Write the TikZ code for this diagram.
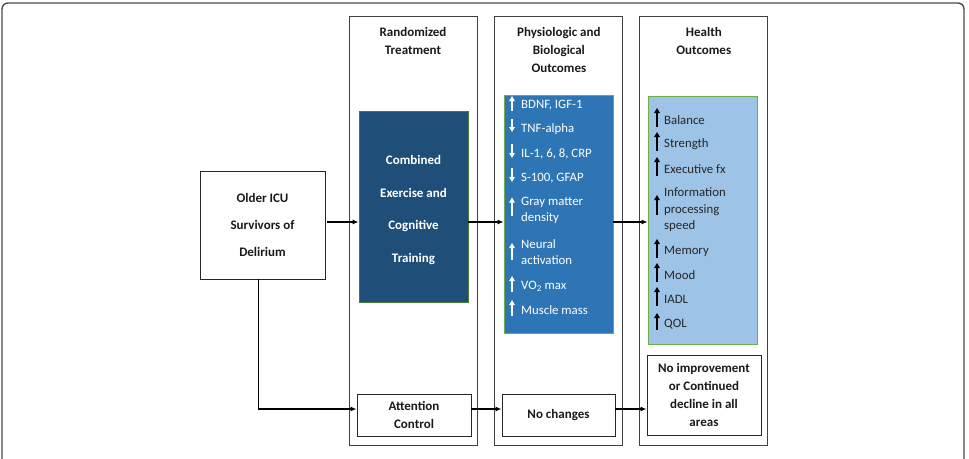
\documentclass[tikz,border=0pt]{standalone}
\usepackage{fontspec}
\setmainfont{Carlito}
\usepackage{xcolor}
\usepackage{tikz}
\usetikzlibrary{arrows.meta, positioning}

\definecolor{combblue}{HTML}{1F4E79}
\definecolor{physblue}{HTML}{2E75B6}
\definecolor{healthblue}{HTML}{9DC3E6}
\definecolor{boxgreen}{HTML}{70AD47}

\tikzset{
  box/.style={draw=black!85, line width=0.9pt, inner sep=0pt, align=center,
    text=black!90, font=\bfseries\fontsize{13}{18}\selectfont},
  colbox/.style={draw=black!75, line width=0.9pt, inner sep=0pt,
    minimum width=128pt, minimum height=429pt},
  title/.style={inner sep=0pt, align=center, text=black!90,
    font=\bfseries\fontsize{13}{18}\selectfont},
  listbox/.style={draw=boxgreen, line width=0.8pt, inner sep=0pt},
  pitem/.style={inner sep=0pt, align=left, text=white,
    font=\fontsize{12.8}{16.5}\selectfont},
  hitem/.style={pitem, text=black!85},
  conn/.style={line width=1.2pt, -{Latex[length=6pt,width=5pt]}},
  tipup/.style={{Triangle[length=5pt,width=5.5pt]}-},
  tipdown/.style={-{Triangle[length=5pt,width=5.5pt]}},
}

\begin{document}
\begin{tikzpicture}[x=1pt, y=-1pt]
  \clip (0,0) rectangle (969,458);
  \draw[black!70, line width=1.4pt, rounded corners=6pt] (2,3) rectangle (964,480);

  % columns
  \node[colbox] (randcol) at (413,230.5) {};
  \node[colbox, right=17pt of randcol] (physcol) {};
  \node[colbox, right=16pt of physcol] (healthcol) {};
  \node[title, below=12pt of randcol.north] (randtitle) {Randomized\\Treatment};
  \node[title, below=12pt of physcol.north] (phystitle) {Physiologic and\\Biological\\Outcomes};
  \node[title, below=12pt of healthcol.north] (healthtitle) {Health\\Outcomes};

  % boxes
  \node[box, minimum width=125pt, minimum height=108pt,
    font=\bfseries\fontsize{13}{27}\selectfont] (icu) at (262.5,225)
    {Older ICU\\Survivors of\\Delirium};
  \node[box, listbox, draw=boxgreen!70!black, fill=combblue, text=white,
    minimum width=109pt, minimum height=191pt,
    font=\bfseries\fontsize{13}{32.5}\selectfont] (comb) at (413.5,206.5)
    {\rule{0pt}{16pt}Combined\\Exercise and\\Cognitive\\Training};
  \node[box, minimum width=114pt, minimum height=42pt] (att) at (414,415) {Attention\\Control};
  \node[listbox, fill=physblue, minimum width=109pt, minimum height=238pt] (physbox) at (558.5,214) {};
  \node[box, minimum width=113pt, minimum height=42pt] (nochg) at (558.5,415) {No changes};
  \node[listbox, fill=healthblue, minimum width=109pt, minimum height=248pt] (healthbox) at (702.5,220) {};
  \node[box, minimum width=114pt, minimum height=80pt] (noimp) at (704,395)
    {No improvement\\or Continued\\decline in all\\areas};

  % physiologic items
  \foreach \n/\y/\txt/\tip/\ta/\tb in {
      p1/105/{BDNF, IGF-1}/tipup/9/6,
      p2/129/TNF-alpha/tipdown/10/3,
      p3/154/{IL-1, 6, 8, CRP}/tipdown/10/4,
      p4/178/{S-100, GFAP}/tipdown/10/4,
      p5/210.5/{Gray matter\\density}/tipup/13/5,
      p6/252/{Neural\\activation}/tipup/9/8,
      p7/286/{VO\textsubscript{2} max}/tipup/10/6,
      p8/310/Muscle mass/tipup/10/6} {
    \node[pitem, anchor=west] (\n) at (521,\y) {\txt};
    \draw[white, line width=1.3pt, \tip] ([xshift=-9pt, yshift=\ta pt]\n.west) -- ([xshift=-9pt, yshift=-\tb pt]\n.west);
  }

  % health items
  \foreach \n/\y/\txt/\ta/\tb in {
      h1/120/Balance/12/7,
      h2/144/Strength/12/7,
      h3/169/Executive fx/12/7,
      h4/210/{Information\\processing\\speed}/15/5,
      h5/251/Memory/12/7,
      h6/275/Mood/12/7,
      h7/299/IADL/12/7,
      h8/324/QOL/11/6} {
    \node[hitem, anchor=west] (\n) at (664,\y) {\txt};
    \draw[black, line width=1.3pt, tipup] ([xshift=-7pt, yshift=\ta pt]\n.west) -- ([xshift=-7pt, yshift=-\tb pt]\n.west);
  }

  % connectors
  \coordinate (split) at ([yshift=3pt]icu.east);
  \coordinate (ctrl) at ([yshift=6pt]att.west);
  \draw[conn] ([xshift=2pt]split) -- (split -| comb.west);
  \draw[conn] (split -| comb.east) -- (split -| physbox.west);
  \draw[conn] (split -| physbox.east) -- (split -| healthbox.west);
  \draw[conn] ([xshift=-4pt]icu.south) |- (ctrl);
  \draw[conn] (ctrl -| att.east) -- (ctrl -| nochg.west);
  \draw[conn] (ctrl -| nochg.east) -- (ctrl -| noimp.west);
\end{tikzpicture}
\end{document}
